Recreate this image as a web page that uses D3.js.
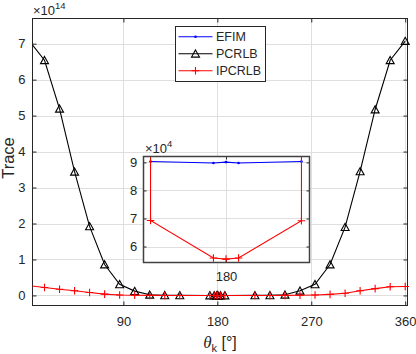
<!DOCTYPE html>
<meta charset="utf-8">
<style>
body { margin: 0; background: #fff; }
text { font-family: "Liberation Sans", Arial, sans-serif; fill: #262626; }
.grid line { stroke: #dfdfdf; stroke-width: 1; }
</style>
<body>
<script src="https://d3js.org/d3.v7.min.js"></script>
<script>
// sampled angles (deg)
var theta = [0, 14.4, 28.8, 43.2, 57.6, 72, 86.4, 100.8, 115.2, 129.6, 144, 172.8,
             177, 179.5, 180, 180.5, 183,
             187.2, 216, 230.4, 244.8, 259.2, 273.6, 288, 302.4, 316.8, 331.2, 345.6, 360];

// EFIM only computed around 180 deg
var efimTheta = [177, 179.5, 180, 180.5, 183];
var efim = [9.03e4, 8.98e4, 9.01e4, 8.98e4, 9.03e4];

var pcrlb = [7.07e14, 6.54e14, 5.19e14, 3.44e14, 1.92e14, 0.86e14, 0.31e14, 0.12e14, 0.02e14, 4e11, 5e10, 2e8,
             3e6, 2.2e6, 2.1e6, 2.2e6, 3e6,
             2e8, 5e10, 4e11, 0.02e14, 0.13e14, 0.31e14, 0.86e14, 1.9e14, 3.45e14, 5.17e14, 6.54e14, 7.07e14];

var ipcrlb = [0.27e14, 0.22e14, 0.17e14, 0.13e14, 0.083e14, 0.037e14, 0.012e14, 0.003e14, 6e10, 1e10, 1.5e9, 2e8,
              6.93e4, 5.59e4, 5.55e4, 5.59e4, 6.92e4,
              2e8, 1.5e9, 1e10, 6e10, 0.003e14, 0.012e14, 0.03e14, 0.06e14, 0.13e14, 0.19e14, 0.24e14, 0.25e14];

var seriesNames = ["EFIM", "PCRLB", "IPCRLB"];
var xTicks = [90, 180, 270, 360];
var yTicks = [0, 1e14, 2e14, 3e14, 4e14, 5e14, 6e14, 7e14];
var insetXTicks = [180];
var insetYTicks = [6e4, 7e4, 8e4, 9e4];

var colors = ["#0000ff", "#000000", "#ff0000"];
var allSeries = [[efimTheta, efim], [theta, pcrlb], [theta, ipcrlb]];

var svg = d3.select("body").append("svg")
    .attr("width", 416)
    .attr("height", 354);

// main axes
var x = d3.scaleLinear().domain([2.9, 362.2]).range([32.5, 407.5]);
var y = d3.scaleLinear().domain([-0.28e14, 7.7e14]).range([305.5, 18.5]);

// inset axes
var xi = d3.scaleLinear().domain([176.72, 183.32]).range([143.5, 309.5]);
var yi = d3.scaleLinear().domain([5.43e4, 9.21e4]).range([262.5, 156.5]);

var triPath = "M0,-3.8L4,3.4L-4,3.4Z";
var plusPath = "M-3.8,0H3.8M0,-3.8V3.8";

function drawSeries(g, xs, ys, clipId, inset) {
  var xd = xs.domain(), yd = ys.domain();
  allSeries.forEach(function(sr, s) {
    var pts = sr[0].map(function(t, i) { return [t, sr[1][i]]; });
    var line = d3.line()
        .x(function(d) { return xs(d[0]); })
        .y(function(d) { return ys(Math.min(d[1], inset ? 1e9 : 1e16)); });
    g.append("path")
        .datum(pts)
        .attr("clip-path", "url(#" + clipId + ")")
        .attr("fill", "none")
        .attr("stroke", colors[s])
        .attr("stroke-width", 1.1)
        .attr("d", line);
    var vis = pts.filter(function(d) {
      return d[0] >= xd[0] && d[0] <= xd[1] && d[1] >= yd[0] && d[1] <= yd[1];
    });
    var m = g.selectAll(".m" + s).data(vis).enter();
    if (s === 0) {
      m.append("circle")
          .attr("cx", function(d) { return xs(d[0]); })
          .attr("cy", function(d) { return ys(d[1]); })
          .attr("r", 1.3)
          .attr("fill", colors[s]);
    } else {
      m.append("path")
          .attr("transform", function(d) { return "translate(" + xs(d[0]) + "," + ys(d[1]) + ")"; })
          .attr("d", s === 1 ? triPath : plusPath)
          .attr("fill", "none")
          .attr("stroke", colors[s])
          .attr("stroke-width", 1.1);
    }
  });
}

function styleAxis(g, size) {
  g.attr("font-family", null).attr("font-size", null);
  g.select(".domain").remove();
  g.selectAll(".tick line").attr("stroke", "#262626");
  g.selectAll("text").style("font-size", size + "px").attr("fill", "#262626");
}

var defs = svg.append("defs");
defs.append("clipPath").attr("id", "clipMain").append("rect")
    .attr("x", 32.5).attr("y", 18.5).attr("width", 375).attr("height", 287);
defs.append("clipPath").attr("id", "clipInset").append("rect")
    .attr("x", 143.5).attr("y", 156.5).attr("width", 166).attr("height", 106);

// grid
var grid = svg.append("g").attr("class", "grid");
grid.selectAll(".gx").data(xTicks).enter().append("line")
    .attr("x1", function(d) { return Math.round(x(d)) + 0.5; })
    .attr("x2", function(d) { return Math.round(x(d)) + 0.5; })
    .attr("y1", 18.5).attr("y2", 305.5);
grid.selectAll(".gy").data(yTicks).enter().append("line")
    .attr("y1", function(d) { return Math.round(y(d)) + 0.5; })
    .attr("y2", function(d) { return Math.round(y(d)) + 0.5; })
    .attr("x1", 32.5).attr("x2", 407.5);

// axes ticks and labels
styleAxis(svg.append("g").attr("transform", "translate(0,305.5)")
    .call(d3.axisBottom(x).tickValues(xTicks).tickSize(-4).tickPadding(11.5).tickFormat(d3.format("d"))), 13);
styleAxis(svg.append("g").attr("transform", "translate(0,18.5)")
    .call(d3.axisTop(x).tickValues(xTicks).tickSize(-4).tickFormat("")), 13);
styleAxis(svg.append("g").attr("transform", "translate(32.5,0)")
    .call(d3.axisLeft(y).tickValues(yTicks).tickSize(-4).tickPadding(7).tickFormat(function(d) { return d / 1e14; })), 13);
styleAxis(svg.append("g").attr("transform", "translate(407.5,0)")
    .call(d3.axisRight(y).tickValues(yTicks).tickSize(-4).tickFormat("")), 13);

svg.append("rect")
    .attr("x", 32.5).attr("y", 18.5).attr("width", 375).attr("height", 287)
    .attr("fill", "none").attr("stroke", "#262626").attr("stroke-width", 1);

// exponent
var ex = svg.append("text").attr("x", 33).attr("y", 15).style("font-size", "13px");
ex.append("tspan").text("\u00d710");
ex.append("tspan").attr("dy", -6).style("font-size", "9.5px").text("14");

// axis labels
svg.append("text")
    .attr("transform", "translate(13.5,158) rotate(-90)")
    .attr("text-anchor", "middle")
    .style("font-size", "16.5px")
    .text("Trace");

var xl = svg.append("text")
    .attr("x", 220).attr("y", 347.5)
    .attr("text-anchor", "middle")
    .style("font-size", "16px");
xl.append("tspan").style("font-family", "'Liberation Serif', serif").style("font-style", "italic")
    .style("font-size", "17px").text("\u03b8");
xl.append("tspan").attr("dy", 4).style("font-size", "11px").text("k");
xl.append("tspan").attr("dy", -4).text(" [\u00b0]");

// main data
drawSeries(svg.append("g"), x, y, "clipMain", false);

// inset
var ins = svg.append("g");
ins.append("rect")
    .attr("x", 143.5).attr("y", 156.5).attr("width", 166).attr("height", 106)
    .attr("fill", "#fff");
var igrid = ins.append("g").attr("class", "grid");
igrid.selectAll(".gx").data(insetXTicks).enter().append("line")
    .attr("x1", function(d) { return Math.round(xi(d)) + 0.5; })
    .attr("x2", function(d) { return Math.round(xi(d)) + 0.5; })
    .attr("y1", 156.5).attr("y2", 262.5);
igrid.selectAll(".gy").data(insetYTicks).enter().append("line")
    .attr("y1", function(d) { return Math.round(yi(d)) + 0.5; })
    .attr("y2", function(d) { return Math.round(yi(d)) + 0.5; })
    .attr("x1", 143.5).attr("x2", 309.5);

styleAxis(ins.append("g").attr("transform", "translate(0,262.5)")
    .call(d3.axisBottom(xi).tickValues(insetXTicks).tickSize(-3).tickPadding(9.3).tickFormat(d3.format("d"))), 13);
styleAxis(ins.append("g").attr("transform", "translate(0,156.5)")
    .call(d3.axisTop(xi).tickValues(insetXTicks).tickSize(-3).tickFormat("")), 13);
styleAxis(ins.append("g").attr("transform", "translate(143.5,0)")
    .call(d3.axisLeft(yi).tickValues(insetYTicks).tickSize(-3).tickPadding(6.2).tickFormat(function(d) { return d / 1e4; })), 13);
styleAxis(ins.append("g").attr("transform", "translate(309.5,0)")
    .call(d3.axisRight(yi).tickValues(insetYTicks).tickSize(-3).tickFormat("")), 13);

drawSeries(ins.append("g"), xi, yi, "clipInset", true);

ins.append("rect")
    .attr("x", 143.5).attr("y", 156.5).attr("width", 166).attr("height", 106)
    .attr("fill", "none").attr("stroke", "#404040").attr("stroke-width", 1.5);

var ex2 = ins.append("text").attr("x", 145).attr("y", 153.3).style("font-size", "13px");
ex2.append("tspan").text("\u00d710");
ex2.append("tspan").attr("dy", -6).style("font-size", "9.5px").text("4");

// legend
var leg = svg.append("g");
leg.append("rect")
    .attr("x", 175.5).attr("y", 26.5).attr("width", 90).attr("height", 55)
    .attr("fill", "#fff").attr("stroke", "#262626").attr("stroke-width", 1);
var rows = leg.selectAll(".row").data(seriesNames).enter().append("g")
    .attr("transform", function(d, i) { return "translate(0," + (36.7 + i * 17) + ")"; });
rows.append("line")
    .attr("x1", 178.5).attr("x2", 212.5)
    .attr("stroke", function(d, i) { return colors[i]; })
    .attr("stroke-width", 1.1);
rows.each(function(d, i) {
  var r = d3.select(this);
  if (i === 0) {
    r.append("circle").attr("cx", 195.5).attr("cy", 0).attr("r", 1.3).attr("fill", colors[0]);
  } else {
    r.append("path").attr("transform", "translate(195.5,0)")
        .attr("d", i === 1 ? triPath : plusPath)
        .attr("fill", "none").attr("stroke", colors[i]).attr("stroke-width", 1.1);
  }
});
rows.append("text")
    .attr("x", 216).attr("dy", "0.36em")
    .style("font-size", "12.5px")
    .text(function(d) { return d; });
</script>
</body>
